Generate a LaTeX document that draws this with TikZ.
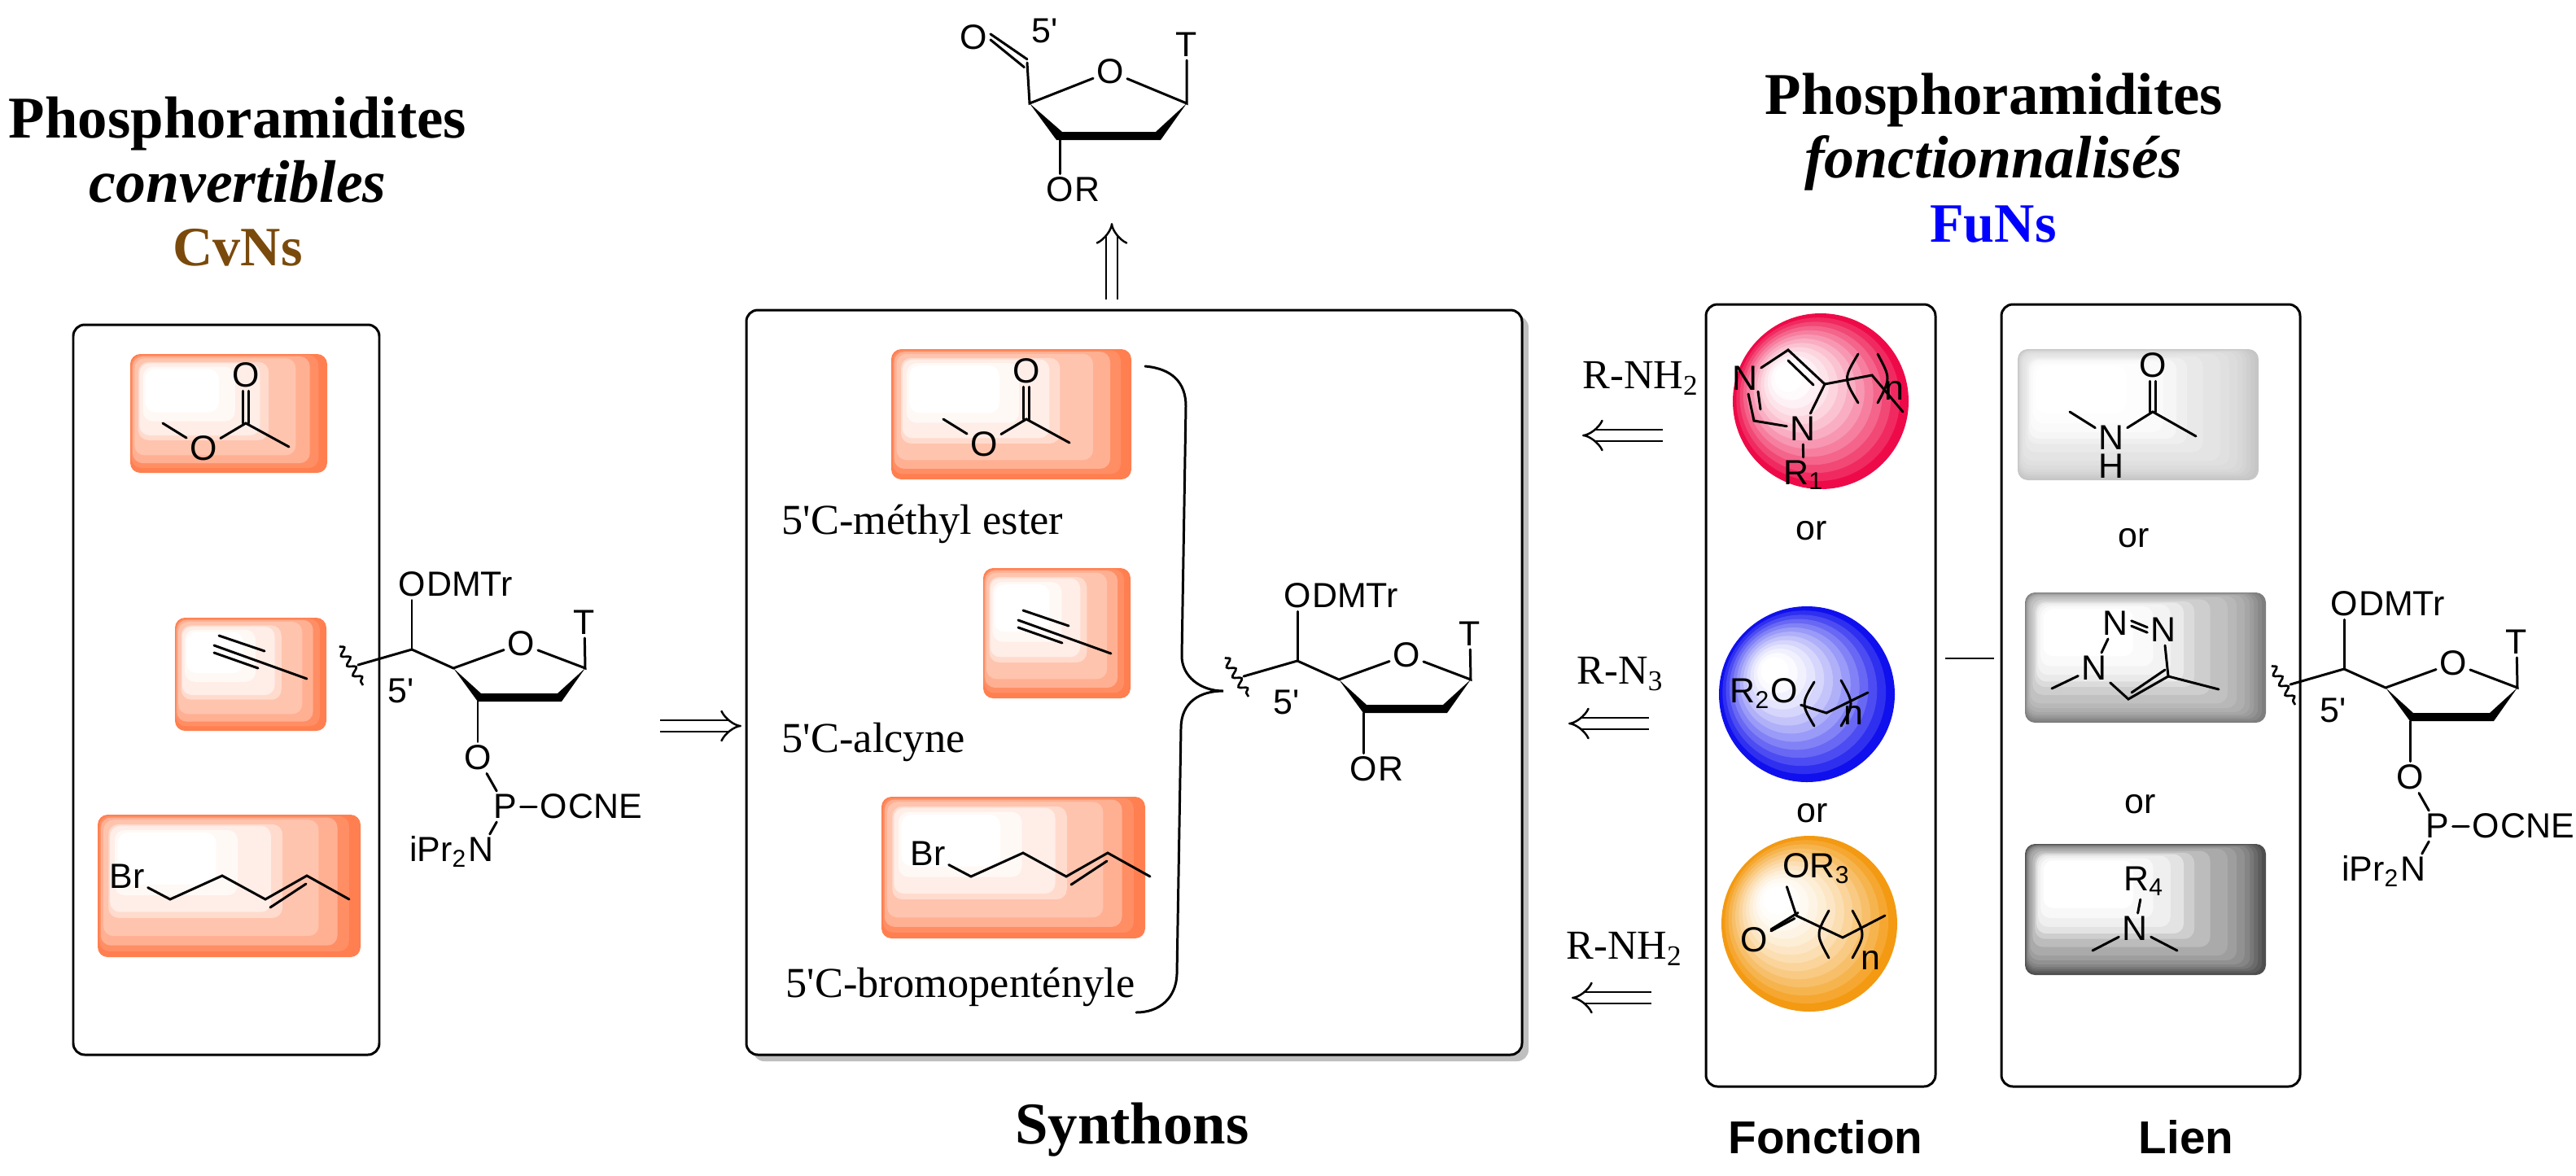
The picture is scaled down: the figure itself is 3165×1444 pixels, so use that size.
\documentclass[tikz,border=0pt]{standalone}
\usepackage{fontspec}
\usepackage{tikz}
\usetikzlibrary{arrows.meta, decorations.pathmorphing}
\newfontfamily\chemfont{Liberation Sans}
\newfontfamily\labelfont{Liberation Serif}
\definecolor{coralband}{HTML}{FF7F50}
\definecolor{redband}{HTML}{EE0A48}
\definecolor{blueband}{HTML}{1010EE}
\definecolor{orangeband}{HTML}{F39A12}
\definecolor{greyone}{HTML}{C6C6C6}
\definecolor{greytwo}{HTML}{7E7E7E}
\definecolor{greythree}{HTML}{4E4E4E}
\definecolor{cvbrown}{HTML}{7A4A0C}
\definecolor{fublue}{HTML}{0000FF}
\tikzstyle{frame} = [rounded corners=4pt, line width=0.85pt, draw=black]
\tikzstyle{bond} = [line width=0.85pt, line cap=round]
\tikzstyle{atom} = [inner sep=1pt, font=\chemfont\fontsize{12.2}{14}\selectfont]
\tikzstyle{sublabel} = [inner sep=0pt, anchor=base west, font=\labelfont\fontsize{14.9}{17}\selectfont]
\tikzstyle{reagent} = [inner sep=0pt, font=\labelfont\fontsize{14.4}{17}\selectfont]
\tikzstyle{title} = [inner sep=0pt, anchor=base, font=\labelfont\fontsize{20.7}{24}\selectfont\bfseries]
\tikzstyle{subtitle} = [inner sep=0pt, anchor=base, font=\labelfont\fontsize{21}{24}\selectfont\bfseries\itshape]
\tikzstyle{family} = [inner sep=0pt, anchor=base, font=\labelfont\fontsize{19.4}{22}\selectfont\bfseries]
\tikzstyle{footer} = [inner sep=0pt, anchor=base, font=\chemfont\fontsize{16.1}{20}\selectfont\bfseries]
\tikzstyle{retro} = [line width=0.7pt, double, double distance=3.2pt, -{Implies}]
\tikzstyle{wavy} = [line width=0.75pt, decorate, decoration={snake, amplitude=1.3pt, segment length=4pt}]

\newcommand{\coralsteps}{0/100,0.08/88,0.16/62,0.29/46,0.54/28,0.62/14,0.85/5,1/0}
\newcommand{\greysteps}{0/100,0.03/92,0.06/84,0.09/76,0.12/69,0.16/62,0.22/55,0.29/48,0.42/38,0.54/28,0.62/16,0.72/9,0.85/4,1/0}
% banded box: left, top, right, bottom, colour, steps
\newcommand{\bandbox}[6]{
    \foreach \t/\c in #6
        \fill [#5!\c!white, rounded corners=3.5pt]
            ({#1+\t*0.076*(#3-#1)},{#2+\t*0.126*(#4-#2)}) rectangle ({#3-\t*0.55*(#3-#1)},{#4-\t*0.51*(#4-#2)});
}
% banded ball: centre x, centre y, radius, colour
\newcommand{\bandball}[4]{
    \foreach \k in {0,...,12} {
        \pgfmathsetmacro{\t}{\k/12}
        \pgfmathsetmacro{\c}{100*(1-\t)^1.6}
        \fill [#4!\c!white] ({#1-\t*0.365*#3},{#2-\t*0.263*#3}) circle [radius={#3*(1-0.84*\t)}];
    }
}
% acetate group, origin on the carbonyl carbon
\newcommand{\estermol}[3]{
    \begin{scope}[shift={(#2,#3)}]
        \coordinate (#1c) at (0,0);
        \coordinate (#1left) at (-102,0);
        \coordinate (#1right) at (53,29);
        \node (#1ot) [atom] at (0,-59) {O};
        \node (#1ol) [atom] at (-52,31) {O};
        \draw [bond] (#1left) -- (#1ol);
        \draw [bond] (#1ol) -- (#1c) -- (#1right);
        \draw [bond] ([xshift=-1.1pt]#1c) -- ([xshift=-1.1pt]#1ot.south);
        \draw [bond] ([xshift=1.1pt]#1c) -- ([xshift=1.1pt]#1ot.south);
    \end{scope}
}
% propyne, origin on the left end of the middle line
\newcommand{\alkynemol}[3]{
    \begin{scope}[shift={(#2,#3)}]
        \coordinate (#1a) at (0,0);
        \coordinate (#1b) at (114,41);
        \coordinate (#1ua) at (6,-12);
        \coordinate (#1ub) at (62,7);
        \coordinate (#1la) at (0,9);
        \coordinate (#1lb) at (54,28);
        \draw [bond] (#1a) -- (#1b);
        \draw [bond] (#1ua) -- (#1ub);
        \draw [bond] (#1la) -- (#1lb);
    \end{scope}
}
% bromopentene, origin on the first carbon
\newcommand{\brommol}[3]{
    \begin{scope}[shift={(#2,#3)}]
        \node (#1br) [atom] at (-53,-28) {Br};
        \coordinate (#1ca) at (0,0);
        \coordinate (#1cb) at (64,-29);
        \coordinate (#1cc) at (117,0);
        \coordinate (#1cd) at (168,-29);
        \coordinate (#1ce) at (220,0);
        \coordinate (#1da) at (123,10);
        \coordinate (#1db) at (167,-19);
        \draw [bond] (#1br) -- (#1ca) -- (#1cb) -- (#1cc) -- (#1cd) -- (#1ce);
        \draw [bond] (#1da) -- (#1db);
    \end{scope}
}
% sugar ring with its 5' arm, origin on the 5' carbon
\newcommand{\sugarcore}[3]{
    \begin{scope}[shift={(#2,#3)}]
        \coordinate (#1cf) at (0,0);
        \coordinate (#1cq) at (51,23);
        \coordinate (#1ca) at (213,23);
        \coordinate (#1cb) at (81,64);
        \coordinate (#1wa) at (-89,-4);
        \coordinate (#1wb) at (-60,44);
        \coordinate (#1wc) at (-66,19);
        \node (#1of) [atom] at (0,-80) {O};
        \node (#1dmt) [atom, anchor=base west, inner sep=0pt] at ([xshift=-1pt]#1of.base east) {DMTr};
        \node (#1or) [atom] at (134,-7) {O};
        \node (#1t) [atom] at (212,-33) {T};
        \node (#1ot) [atom] at (81,133) {O};
        \node (#1five) [atom] at (-13,51) {5'};
        \draw [bond] (#1wc) -- (#1cf) -- (#1cq) -- (#1or) -- (#1ca) -- (#1t);
        \draw [bond] (#1cf) -- (#1of);
        \draw [bond] (#1cb) -- (#1ot);
        \draw [wavy] (#1wa) -- (#1wb);
        \fill (#1cq) -- (85,54) -- (179,54) -- (#1ca) -- (184,64) -- (#1cb) -- cycle;
    \end{scope}
}
% phosphite arm of the same sugar
\newcommand{\phosarm}[3]{
    \begin{scope}[shift={(#2,#3)}]
        \node (#1p) [atom] at (115,193) {P};
        \node (#1oc) [atom] at (174,193) {O};
        \node (#1cne) [atom, anchor=base west, inner sep=0pt] at ([xshift=-1pt]#1oc.base east) {CNE};
        \node (#1n) [atom] at (85,246) {N};
        \node (#1ipr) [atom, anchor=base east, inner sep=0pt] at ([xshift=1pt]#1n.base west) {iPr\textsubscript{2}};
        \draw [bond] (#1ot) -- (#1p);
        \draw [bond] (#1p) -- (#1oc);
        \draw [bond] (#1p) -- (#1n);
    \end{scope}
}

\begin{document}
\begin{tikzpicture}[x=0.01cm, y=-0.01cm]
    \useasboundingbox (0,0) rectangle (3165,1444);
    %% titles
    \node (titleL) [title] at (292,169) {Phosphoramidites};
    \node (subL) [subtitle] at (292,248) {convertibles};
    \node (cvns) [family, text=cvbrown] at (292,326) {CvNs};
    \node (titleR) [title] at (2450,140) {Phosphoramidites};
    \node (subR) [subtitle] at (2449,218) {fonctionnalisés};
    \node (funs) [family, text=fublue] at (2449,297) {FuNs};
    \node (synthons) [title] at (1391,1405) {Synthons};
    \node (fonction) [footer] at (2243,1417) {Fonction};
    \node (lien) [footer] at (2686,1417) {Lien};

    %% left panel
    \draw [frame] (90,399) rectangle (466,1296);
    \bandbox{160}{435}{402}{581}{coralband}{\coralsteps}
    \bandbox{215}{759}{401}{898}{coralband}{\coralsteps}
    \bandbox{120}{1001}{443}{1176}{coralband}{\coralsteps}
    \estermol{estL}{302}{520}
    \alkynemol{alkL}{263}{793}
    \brommol{brL}{209}{1105}
    \sugarcore{sugL}{506}{798}
    \phosarm{sugL}{506}{798}

    \coordinate (convA) at (811,892);
    \coordinate (convB) at (911,892);
    \draw [retro] (convA) -- (convB);

    %% synthon panel
    \fill [gray!50, rounded corners=4pt] (925,388) rectangle (1878,1304);
    \draw [frame, fill=white] (917,381) rectangle (1870,1296);
    \bandbox{1095}{429}{1390}{589}{coralband}{\coralsteps}
    \bandbox{1208}{698}{1389}{858}{coralband}{\coralsteps}
    \bandbox{1083}{979}{1407}{1153}{coralband}{\coralsteps}
    \estermol{estM}{1261}{515}
    \alkynemol{alkM}{1251}{762}
    \brommol{brM}{1193}{1077}
    \node (lblester) [sublabel] at (960,656) {5'C-méthyl ester};
    \node (lblalkyne) [sublabel] at (960,924) {5'C-alcyne};
    \node (lblbromo) [sublabel] at (965,1225) {5'C-bromopentényle};
    \draw [bond] (1407,450) .. controls (1440,453) and (1457,470) .. (1457,499) -- (1452,806)
        .. controls (1452,831) and (1475,849) .. (1503,849) .. controls (1475,849) and (1451,862) .. (1451,895)
        -- (1446,1197) .. controls (1445,1226) and (1425,1244) .. (1396,1244);
    \sugarcore{sugM}{1594}{812}
    \node (sugMr) [atom, anchor=base west, inner sep=0pt] at ([xshift=-1pt]sugMot.base east) {R};

    %% aldehyde on top
    \coordinate (alcf) at (1262,77);
    \coordinate (alcq) at (1265,127);
    \coordinate (alca) at (1458,127);
    \coordinate (alcb) at (1302,172);
    \node (alo) [atom] at (1196,46) {O};
    \node (alor) [atom] at (1364,88) {O};
    \node (alt) [atom] at (1458,55) {T};
    \node (alfive) [atom] at (1284,38) {5'};
    \node (alot) [atom] at (1302,233) {O};
    \node (alr) [atom, anchor=base west, inner sep=0pt] at ([xshift=-1pt]alot.base east) {R};
    \draw [bond] ([yshift=1.2pt]alo.east) -- ([yshift=1.2pt]alcf);
    \draw [bond] ([yshift=-0.8pt]alo.east) -- ([xshift=-1pt,yshift=-1.6pt]alcf);
    \draw [bond] (alcf) -- (alcq) -- (alor) -- (alca) -- (alt);
    \draw [bond] (alcb) -- (alot);
    \fill (alcq) -- (1305,162) -- (1420,162) -- (alca) -- (1426,172) -- (1298,172) -- cycle;
    \coordinate (upA) at (1366,368);
    \coordinate (upB) at (1366,274);
    \draw [retro] (upA) -- (upB);

    %% fonction panel
    \draw [frame] (2096,374) rectangle (2378,1335);
    \bandball{2237}{493}{108}{redband}
    \bandball{2220}{853}{108}{blueband}
    \bandball{2223}{1135}{108}{orangeband}
    % imidazole
    \node (imna) [atom] at (2144,465) {N};
    \node (imnb) [atom] at (2215,527) {N};
    \node (imr) [atom] at (2216,584) {R\textsubscript{1}};
    \node (imn) [atom] at (2327,480) {n};
    \coordinate (imct) at (2197,430);
    \coordinate (imcr) at (2242,472);
    \coordinate (imcl) at (2155,517);
    \coordinate (imda) at (2197,443);
    \coordinate (imdb) at (2228,473);
    \coordinate (imea) at (2160,481);
    \coordinate (imeb) at (2163,503);
    \coordinate (imch) at (2300,461);
    \coordinate (imend) at (2338,506);
    \draw [bond] (imna) -- (imct) -- (imcr) -- (imnb) -- (imcl) -- (imna);
    \draw [bond] (imda) -- (imdb);
    \draw [bond] (imea) -- (imeb);
    \draw [bond] (imnb) -- (imr);
    \draw [bond] (imcr) -- (imch) -- (imend);
    \draw [bond] (2283,435) .. controls (2265,465) .. (2283,495);
    \draw [bond] (2307,435) .. controls (2323,465) .. (2307,495);
    % ether
    \node (etho) [atom] at (2167,852) {R\textsubscript{2}O};
    \node (ethn) [atom] at (2277,879) {n};
    \coordinate (ethch) at (2244,876);
    \coordinate (ethend) at (2295,851);
    \draw [bond] (etho) -- (ethch) -- (ethend);
    \draw [bond] (2229,838) .. controls (2213,865) .. (2229,892);
    \draw [bond] (2262,836) .. controls (2278,865) .. (2262,892);
    % ester
    \node (esor) [atom] at (2232,1067) {OR\textsubscript{3}};
    \node (esod) [atom] at (2155,1155) {O};
    \node (esn) [atom] at (2298,1180) {n};
    \coordinate (esc) at (2207,1125);
    \coordinate (esch) at (2264,1152);
    \coordinate (esend) at (2316,1125);
    \draw [bond] (esor.south west) ++(9,0) -- (esc);
    \draw [bond] (esc) -- (esch) -- (esend);
    \draw [bond] ([xshift=-0.6pt,yshift=-1pt]esc) -- ([xshift=-0.6pt,yshift=-1pt]esod);
    \draw [bond] ([xshift=0.6pt,yshift=1pt]esc) -- ([xshift=0.6pt,yshift=1pt]esod);
    \draw [bond] (2247,1119) .. controls (2231,1148) .. (2247,1177);
    \draw [bond] (2276,1119) .. controls (2292,1148) .. (2276,1177);
    \node (orfa) [atom] at (2226,652) {or};
    \node (orfb) [atom] at (2227,999) {or};

    %% reagents and their arrows
    \node (rnha) [reagent] at (2016,465) {R-NH\textsubscript{2}};
    \node (rnb) [reagent] at (1991,828) {R-N\textsubscript{3}};
    \node (rnhc) [reagent] at (1996,1166) {R-NH\textsubscript{2}};
    \coordinate (arrAa) at (2043,535);
    \coordinate (arrAb) at (1944,535);
    \coordinate (arrBa) at (2026,889);
    \coordinate (arrBb) at (1927,889);
    \coordinate (arrCa) at (2029,1226);
    \coordinate (arrCb) at (1931,1226);
    \draw [retro] (arrAa) -- (arrAb);
    \draw [retro] (arrBa) -- (arrBb);
    \draw [retro] (arrCa) -- (arrCb);

    \coordinate (linkA) at (2390,809);
    \coordinate (linkB) at (2450,809);
    \draw [line width=0.7pt] (linkA) -- (linkB);

    %% lien panel
    \draw [frame] (2459,374) rectangle (2826,1335);
    \bandbox{2479}{429}{2775}{590}{greyone}{\greysteps}
    \bandbox{2488}{728}{2784}{888}{greytwo}{\greysteps}
    \bandbox{2488}{1037}{2784}{1198}{greythree}{\greysteps}
    % amide
    \node (amo) [atom] at (2645,449) {O};
    \node (amn) [atom] at (2594,538) {N};
    \node (amh) [atom] at (2594,573) {H};
    \coordinate (amc) at (2645,506);
    \coordinate (amleft) at (2543,506);
    \coordinate (amright) at (2698,536);
    \draw [bond] (amleft) -- (amn) -- (amc) -- (amright);
    \draw [bond] ([xshift=-1.1pt]amc) -- ([xshift=-1.1pt]amo.south);
    \draw [bond] ([xshift=1.1pt]amc) -- ([xshift=1.1pt]amo.south);
    \node (orla) [atom] at (2622,661) {or};
    % triazole
    \node (trna) [atom] at (2599,766) {N};
    \node (trnb) [atom] at (2658,774) {N};
    \node (trnc) [atom] at (2573,821) {N};
    \coordinate (trcl) at (2615,859);
    \coordinate (trcr) at (2664,831);
    \coordinate (trea) at (2726,847);
    \coordinate (treb) at (2521,846);
    \coordinate (trda) at (2619,851);
    \coordinate (trdb) at (2660,823);
    \draw [bond] (treb) -- (trnc) -- (trna);
    \draw [bond] ([yshift=-0.9pt]trna.east) -- ([yshift=-0.9pt]trnb.west);
    \draw [bond] ([yshift=0.9pt]trna.east) -- ([yshift=0.9pt]trnb.west);
    \draw [bond] (trnb) -- (trcr) -- (trcl) -- (trnc);
    \draw [bond] (trda) -- (trdb);
    \draw [bond] (trcr) -- (trea);
    \node (orlb) [atom] at (2630,988) {or};
    % amine
    \node (arr) [atom] at (2634,1083) {R\textsubscript{4}};
    \node (arn) [atom] at (2623,1141) {N};
    \coordinate (arleft) at (2571,1168);
    \coordinate (arright) at (2675,1168);
    \draw [bond] (arr) -- (arn);
    \draw [bond] (arleft) -- (arn) -- (arright);

    \sugarcore{sugR}{2880}{822}
    \phosarm{sugR}{2880}{822}
\end{tikzpicture}
\end{document}
